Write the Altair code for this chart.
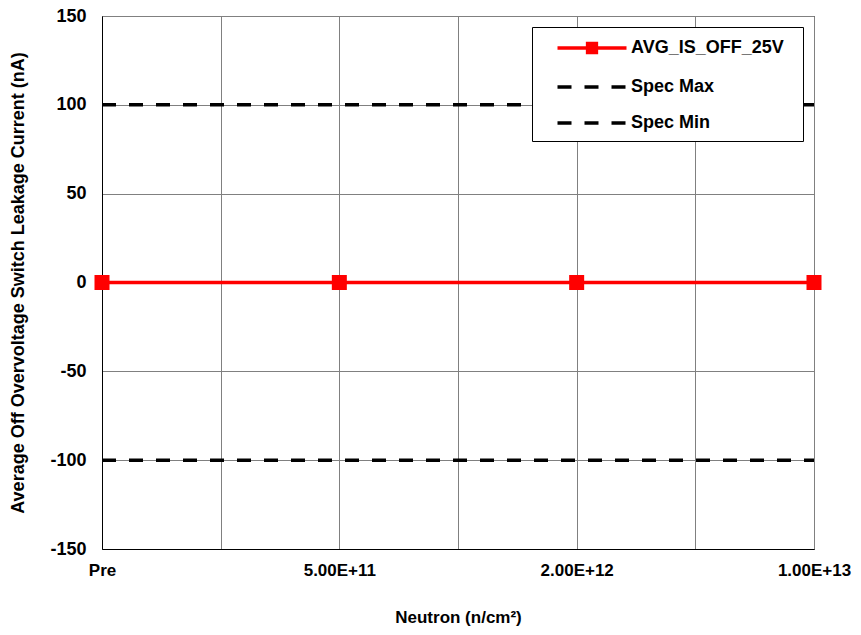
import altair as alt
import pandas as pd

x_labels = ["Pre", "5.00E+11", "2.00E+12", "1.00E+13"]
avg_is_off = [0, 0, 0, 0]
spec_max = [100, 100, 100, 100]
spec_min = [-100, -100, -100, -100]
series_names = ["AVG_IS_OFF_25V", "Spec Max", "Spec Min"]

rows = []
for name, vals in zip(series_names, [avg_is_off, spec_max, spec_min]):
    for i, (lab, v) in enumerate(zip(x_labels, vals)):
        rows.append({"idx": i, "label": lab, "value": v, "series": name})
df = pd.DataFrame(rows)

FONT = "Liberation Sans"
label_js = "[" + ",".join("'" + l + "'" for l in x_labels) + "]"

color_scale = alt.Scale(domain=series_names, range=["#ff0000", "#000000", "#000000"])
dash_scale = alt.Scale(domain=series_names, range=[[1, 0], [14, 13], [14, 13]])
# legend symbol paths: a line with a square marker for the measured series,
# a plain line for the spec limits (the trailing moveTo only widens the legend box)
shape_scale = alt.Scale(
    domain=series_names,
    range=[
        "M-3.45,0H3.45M-0.44,-0.44H0.44V0.44H-0.44ZM19.5,0",
        "M-3.45,0H3.45M19.5,0",
        "M-3.45,0H3.45M19.5,0",
    ],
)

legend = alt.Legend(
    title=None,
    orient="none",
    legendX=430,
    legendY=11,
    strokeColor="#000000",
    fillColor="#ffffff",
    padding=9,
    rowPadding=15,
    labelFont=FONT,
    labelFontSize=18,
    labelFontWeight="bold",
    labelColor="#000000",
    symbolOffset=39,
    labelOffset=27,
    symbolSize=400,
    symbolStrokeWidth=3.5,
    symbolOpacity=1,
)

x_enc = alt.X(
    "idx:Q",
    scale=alt.Scale(domain=[0, 3], nice=False, zero=False),
    axis=alt.Axis(
        title="Neutron (n/cm²)",
        values=[0, 0.5, 1, 1.5, 2, 2.5, 3],
        labelExpr="datum.value % 1 == 0 ? " + label_js + "[datum.value] : ''",
        labelFlush=False,
        labelFontSize=17,
        labelPadding=13,
        titlePadding=31,
        titleFontSize=17,
    ),
)
y_enc = alt.Y(
    "value:Q",
    scale=alt.Scale(domain=[-150, 150], nice=False),
    axis=alt.Axis(
        title="Average Off Overvoltage Switch Leakage Current  (nA)",
        values=[-150, -100, -50, 0, 50, 100, 150],
        labelExpr="'' + datum.value",
        labelPadding=16,
        titlePadding=22,
        titleFontSize=18,
    ),
)

lines = alt.Chart(df).mark_line(strokeWidth=3.5).encode(
    x=x_enc,
    y=y_enc,
    color=alt.Color("series:N", scale=color_scale, legend=legend),
    strokeDash=alt.StrokeDash("series:N", scale=dash_scale, legend=legend),
    order="idx:Q",
)

points = alt.Chart(df).transform_filter(
    alt.datum.series == "AVG_IS_OFF_25V"
).mark_point(filled=True, opacity=1, size=1162).encode(
    x=x_enc,
    y=y_enc,
    color=alt.Color("series:N", scale=color_scale, legend=legend),
    shape=alt.Shape("series:N", scale=shape_scale, legend=legend),
)

chart = alt.layer(lines, points).properties(
    width=712,
    height=533,
    padding={"left": 94, "top": 8, "right": 39, "bottom": 78},
    autosize=alt.AutoSizeParams(type="none"),
    background="#ffffff",
).configure_view(
    stroke="#000000", strokeWidth=1
).configure_axis(
    labelFont=FONT,
    labelFontSize=18,
    labelFontWeight="bold",
    labelColor="#000000",
    titleFont=FONT,
    titleFontWeight="bold",
    titleColor="#000000",
    grid=True,
    gridColor="#808080",
    gridWidth=1,
    gridOpacity=1,
    ticks=False,
    domainColor="#000000",
    domainWidth=1,
)

chart.save("out.html", embed_options={"renderer": "svg", "actions": False})
